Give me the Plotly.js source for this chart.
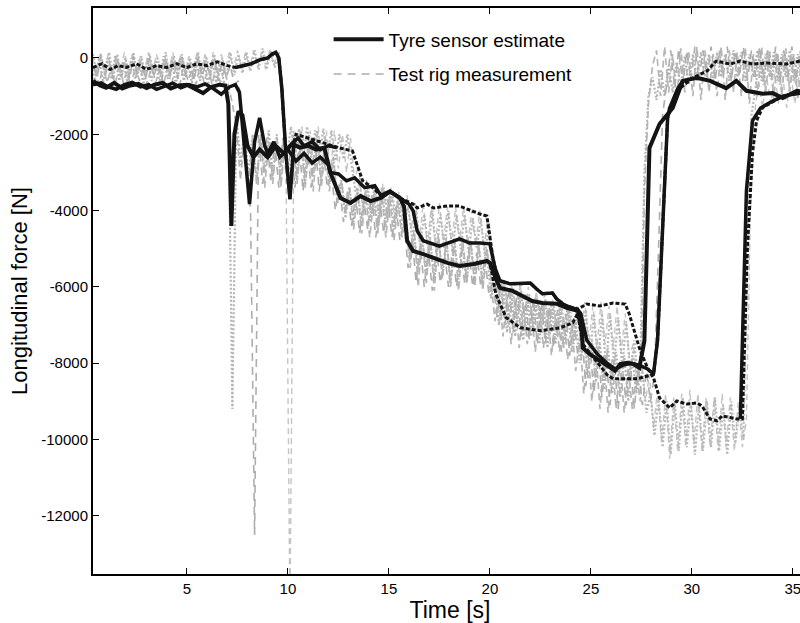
<!DOCTYPE html>
<html>
<head>
<meta charset="utf-8">
<script src="https://cdn.plot.ly/plotly-3.0.1.min.js"></script>
<style>
html,body{margin:0;padding:0;background:#fff;overflow:hidden;}
#chart{width:830px;height:623px;}
</style>
</head>
<body>
<div id="chart"></div>
<script>
// ---- Tick labels ----
const xTicks = [5, 10, 15, 20, 25, 30, 35];
const yTicks = [-12000, -10000, -8000, -6000, -4000, -2000, 0];

// ---- Tyre sensor estimate, run A (solid) ----
const estA_t = [0.35,0.7,1.0,1.4,1.8,2.2,2.6,3.0,3.4,3.8,4.2,4.6,5.0,5.4,5.8,6.2,6.6,6.9,7.05,7.2,7.35,7.55,7.75,8.0,8.3,8.6,9.0,9.4,9.8,10.2,10.6,11.0,11.4,11.8,12.1,12.6,13.1,13.6,14.1,14.6,15.05,15.55,15.75,15.9,16.2,16.7,17.4,17.9,18.5,19.2,19.85,20.0,20.3,20.5,21.1,21.6,22.1,22.6,23.3,23.8,24.35,24.55,24.6,24.95,25.45,25.9,26.2,26.45,26.8,27.1,27.4,27.65,27.9,28.4,29.05,29.55,30.25,30.9,31.7,32.2,32.7,33.5,34.0,34.5,35.2,35.7];
const estA_f = [-600,-720,-780,-650,-800,-720,-680,-790,-700,-650,-800,-720,-700,-820,-920,-760,-700,-720,-1200,-4400,-2000,-1400,-1500,-2300,-2600,-2400,-2600,-2300,-2500,-2250,-2350,-2300,-2400,-2350,-3000,-3670,-3800,-3620,-3750,-3670,-3500,-3670,-3900,-4790,-5060,-5140,-5270,-5370,-5450,-5400,-5320,-5370,-5800,-6030,-6100,-6240,-6370,-6420,-6440,-6550,-6630,-7150,-7600,-7760,-7940,-8120,-8200,-8020,-7990,-8020,-8120,-7410,-2360,-1730,-1310,-600,-520,-600,-790,-600,-860,-940,-920,-1050,-860,-900];

// ---- Tyre sensor estimate, run B (solid) ----
const estB_t = [0.35,0.75,1.1,1.5,1.9,2.3,2.7,3.1,3.5,3.9,4.3,4.7,5.1,5.5,5.9,6.3,6.7,7.1,7.4,7.6,7.85,8.1,8.35,8.6,8.85,9.0,9.3,9.6,10.0,10.4,10.8,11.2,11.6,12.0,12.1,12.5,12.9,13.3,13.8,14.3,14.6,15.05,15.55,16.0,16.2,16.4,16.7,17.5,18.5,19.0,19.5,20.0,20.25,20.5,21.0,21.5,22.0,22.3,22.6,23.1,23.3,23.6,23.8,24.1,24.35,24.5,24.8,25.3,25.8,26.2,26.6,27.0,27.4,27.8,28.1,28.3,28.8,28.9,29.3,29.55];
const estB_f = [-700,-650,-760,-820,-700,-640,-760,-700,-820,-740,-660,-780,-700,-760,-680,-800,-950,-760,-700,-900,-2500,-3830,-2200,-1570,-2300,-2500,-2200,-2600,-2400,-2700,-2500,-2750,-2600,-2800,-3000,-3040,-3220,-3140,-3400,-3350,-3600,-3490,-3670,-3830,-4010,-4530,-4790,-4930,-4740,-4850,-4850,-4870,-5500,-5840,-5920,-5920,-5900,-6050,-6180,-6160,-6310,-6440,-6500,-6550,-6600,-6700,-7400,-7750,-8000,-8150,-8050,-8000,-8050,-8150,-8280,-7410,-1570,-1310,-800,-600];

// ---- Tyre sensor estimate, run C (solid parts) ----
const estC_t = [7.4,7.8,8.2,8.6,9.0,9.2,9.4,9.55,9.7,9.9,10.1,10.3,10.5,10.8,11.2,11.6,12.0,12.4,12.45,32.4,32.7,33.0,33.4,34.0,34.5,35.0,35.7];
const estC_f = [-250,-200,-150,-50,0,100,150,0,-800,-2500,-3700,-2200,-2100,-2300,-2200,-2400,-2300,-2350,null,-9460,-3490,-1650,-1310,-1130,-1000,-950,-900];

// ---- Estimate, run C (dotted black) ----
const dotC_t = [0.35,0.8,1.2,1.6,2.0,2.5,3.0,3.5,4.0,4.5,5.0,5.5,6.0,6.5,7.0,7.4,7.8,8.2,8.6,9.0,9.4,9.55,9.7,9.9,10.1,10.3,10.4,11.0,11.9,12.5,13.2,13.7,14.2,14.6,15.05,15.55,16.2,16.4,16.9,17.2,17.9,18.5,19.5,19.85,20.15,20.4,20.5,21.0,21.5,22.0,22.3,22.6,23.1,23.3,23.6,23.8,24.1,24.35,24.8,25.45,26.1,26.7,26.9,27.1,27.4,27.8,28.1,28.4,28.9,29.25,29.75,30.25,30.5,30.9,31.25,31.5,31.9,32.2,32.5,32.75,33.0,33.2,33.5,34.0,34.5,35.0,35.7];
const dotC_f = [-250,-150,-300,-200,-250,-150,-300,-200,-250,-150,-250,-150,-200,-100,-200,-250,-200,-150,-50,0,150,0,-800,-2500,-3700,-2200,-2000,-2100,-2250,-2350,-2440,-3220,-3400,-3600,-3490,-3670,-3830,-3930,-3830,-3930,-3880,-3880,-4090,-4140,-5240,-5800,-5840,-5920,-5920,-5900,-6050,-6180,-6160,-6310,-6440,-6500,-6550,-6580,-6450,-6500,-6420,-6450,-6710,-7070,-7600,-8120,-8380,-8910,-9170,-8990,-9070,-9040,-9120,-9460,-9510,-9380,-9430,-9460,-9460,-5000,-2500,-1650,-1300,-1150,-1000,-950,-900];

// ---- Estimate, runs A/B (dotted black) ----
const dotAB_t = [19.85,20.0,20.3,20.8,21.5,22.5,23.5,24.1,24.35,24.6,25.2,25.8,26.1,26.7,27.3,27.7,28.1,28.3,28.8,29.25,30.05,30.75,31.2,31.9,32.4,33.0,33.7,34.7,35.35,35.7];
const dotAB_f = [-5320,-5370,-6200,-6800,-7070,-7150,-7070,-6940,-6700,-7500,-7900,-8300,-8410,-8410,-8410,-8350,-8300,-7400,-1570,-860,-520,-340,-80,-160,-80,-160,-130,-160,-80,-100];

// ---- Test rig measurements (sampled every 0.2 s) ----
const rigA_start = 0.25, rigB_start = 0.35, rigC_start = 0.3, rigD_start = 0.35, rigE_start = 0.45, rigStep = 0.2;
const rigA_f = [
 -100,-600,0,-650,-50, -550,50,-600,-100,-650, 0,-550,-50,-700,0, -600,-100,-650,50,-550,
 -50,-700,0,-600,-100, -650,0,-600,-50,-700, -50,-650,-100,-700,-900, -9200,
 -1500,-2800,-1900,-3100, -2000,-3200,-2100,-3000,-1900, -3100,-2000,-3200,-1900,-3300,
 -2000,-3200,-1900,-3300,-2000, -3100,-1900,-3200,-2100,-3300, -2600,-3800,-3200,-4200,-3400,
 -4300,-3400,-4400,-3500,-4300, -3500,-4500,-3400,-4400,-3500, -4500,-3600,-4600,-4200,-5300,
 -4600,-5600,-4700,-5700,-4800, -5800,-4700,-5700,-4800,-5900, -4800,-5800,-4900,-5900,-4800,
 -5800,-4900,-5900,-5000,-6300, -5900,-7000,-6000,-7200,-6100, -7300,-6200,-7400,-6200,-7300,
 -6300,-7500,-6400,-7600,-6400, -7500,-6500,-7600,-6500,-7700, -6900,-8000,-7300,-8400,-7400,
 -8500,-7500,-8700,-7600,-8800, -7700,-8900,-7800,-9000,-7800, -8800,-7900,-3000,-1000,-500,
 -1100,-300,-1000,-200,-900, -100,-800,50,-700,100, -600,150,-500,100,-600, 150,-500,100,-600,200,
 -500,150,-600,100,-500, 200,-600,100,-500,150, -600,100,-500,200,-600, 100,-500,150];
const rigB_f = [
 -200,-500,100,-450,-100, -550,0,-500,-150,-600, 50,-450,-100,-550,0, -500,-150,-600,0,-450,
 -100,-550,50,-500,-150, -600,0,-500,-100,-550, 0,-600,-100,-500,-200, -700,-600,-1500,-3000,-4000,
 -12500, -2000,-3300,-2100,-3200, -2200,-3400,-2100,-3300,-2300, -3400,-2200,-3500,-2300,-3400,
 -2200,-3500,-2400,-3400,-3000, -4000,-3300,-4300,-3500,-4400, -3600,-4600,-3700,-4500,-3600,
 -4700,-3800,-4600,-3700,-4700, -3900,-4800,-4300,-5500,-4700, -5900,-4900,-6000,-5000,-6100,
 -5000,-5900,-5100,-6000,-5000, -6000,-5100,-5900,-5000,-6000, -5100,-6000,-5200,-6200,-5800,
 -6800,-5900,-7000,-6000,-7200, -6100,-7300,-6200,-7400,-6300, -7500,-6400,-7500,-6500,-7600,
 -6600,-7700,-6700,-7800,-6800, -7800,-7200,-8600,-7500,-8800, -7600,-8900,-7800,-9100,-7900,
 -9200,-8000,-9100,-8000,-9200, -8100,-9100,-8200,-9000,-8300, -5000,-1500,-700,200,-800,
 250,-700,200,-600,300, -600,200,-500,300,-600, 200,-500,300,-600,200, -500,300,-600,200,-500,
 300,-600,200,-500,300, -600,200,-500,300,-600, 200,-500];
const rigC_f = [
 50,-400,150,-350,100, -450,50,-400,150,-350, 100,-450,50,-400,150, -350,100,-450,50,-400,
 150,-350,100,-400,50, -450,150,-350,100,-400, 150,-350,100,-300,150, -300,200,-250,150,-300,
 200,-250,150,-300,200, -200,150,-500,-2500, -14500,
 -1900,-3000,-1800,-2900,-1900, -3000,-1800,-2900,-1900,-3000, -1900,-2900,-2000,-3000,-2100,
 -3200,-2800,-4000,-3200,-4200, -3300,-4300,-3300,-4200,-3400, -4300,-3500,-4400,-3600,-4500,
 -3800,-4800,-3800,-4900,-3900, -4900,-3800,-4800,-3900,-4900, -3900,-4800,-3900,-4900,-4000,
 -4900,-4000,-5000,-4200,-5600, -5700,-6500,-5800,-6600,-5900, -6700,-5900,-6800,-6000,-6900,
 -6100,-7000,-6200,-7100,-6300, -7200,-6400,-7300,-6500,-7300, -6500,-7400,-6400,-7500,-6500,
 -7600,-6400,-7500,-6500,-7600, -6500,-7700,-6700,-7800,-7500, -8600,-7800,-9000,-8300,-9700,
 -8700,-10100,-8800,-10500,-8900, -10300,-8800,-10200,-8700,-10100, -8800,-10300,-8900,-10200,-8900,
 -10300,-8800,-10200,-8900,-10300, -9000,-10200,-9500,-4000,-1500, -600,-1300,-500,-1200,-400,
 -1200,-500,-1300,-400,-1200, -500,-1100];
const rigD_f = [
 100,-500,50,-450,150, -550,100,-500,0,-450, 150,-500,50,-550,100, -450,0,-500,150,-550,
 50,-500,100,-450,0, -550,150,-500,50,-450, 100,-550,0,-500,150,
 -450,100,-400,150,-350,200,-300,250,-300,200,-250,150, -1500,-2600,
 -1800,-2600,-1850,-2700,-1800,-2600,-1900,-2700,-1850,-2600,-1900,-2700,-2000,-2650,-2000,
 -2800,-3500,-3300,-4000,-3400,-4100,-3500,-4200,-3400,-4100,-3500,
 -4200,-3600,-4300,-3900,-4700,
 -4000,-4900,-4100,-5000,-4000,-5100,-4100,-5000,-4000,-5100, -4100,-5000,-4100,-5100,-4200,-5000,-4200,-5200,-4300,-5400,
 -6000,-6900,-6000,-7000,-6100,-7000,-6100,-7100,-6200,-7100, -6300,-7200,-6300,-7300,-6400,-7300,-6500,-7400,-6500,-7500,-6600,
 -7800,-6600,-7900,-6700,-8000,-6700,-8100,-6700,-8000,-6800,-8100,-6900,-8300,-7400,-8600,
 -8200,-9300,-8800,-9900,-8900,-10200,-9000,-10400,-9000,-10300, -8900,-10200,-9000,-10400,-9100,-10300,-9000,-10200,-8900,-10300, -9100,-10400,-9000,-10100,-9200,-10000,
 -5000,-1500,-800,50,-700,150,-600,100,-700,150,-600,100,-700,50,-600];
const rigE_f = [
 -300,-700,-200,-650,-250, -700,-150,-650,-300,-700, -200,-600,-250,-700,-150, -650,-300,-700,-200,-650,
 -250,-700,-150,-600,-300, -700,-200,-650,-250,-700, -150,-650,-300,-700,-1200,
 -1800,-3200,-2000,-3400,-2100, -3300,-2000,-3400,-2200,-3300, -2100,-3400,-2200,-3500,-2300,
 -3300,-2200,-3400,-2300,-3500,-2200,-3400,-2400,-3500,-2600,-3800,-3200,-4100,
 -3400,-4500,-3500,-4600,-3600,-4700,-3700,-4600,-3600,-4700,-3700,-4800,-3800,-4700,-4300,
 -5500,-4500,-6000,-4600,-5900,-4700,-6100,-4600,-5800,-4700, -6000,-4800,-6100,-4700,-5900,-4800,-6000,-4900,-6100,-5000,
 -5800,-6900,-6100,-7300,-6200,-7500,-6300,-7600,-6400,-7500, -6500,-7700,-6500,-7600,-6600,-7800,-6700,-7700,-6800,-7900,-7000,
 -8200,-7300,-8800,-7600,-9000,-7700,-9200,-7800,-9300,-7900,-9200,-8000,-9300,-8100,-9200,-8300,
 -9000,-3500,-1200,-200,
 200,-1000,300,-900,100, -1100,250,-900,150,-1000, 300,-1100,200,-900,100, -1000,300,-1100,200,-900,
 150,-1000,250,-1200,100, -1000,300,-900,200,-1100, 150,-1000,250,-900,100, -1100,200,-1000];

const FONT = '"Liberation Sans", Arial, Helvetica, sans-serif';
const BLACK = '#141414';

function rig(start, vals, color, width, dash, extra) {
  return Object.assign({type:'scatter', mode:'lines', x0:start, dx:rigStep, y:vals,
    showlegend:false, legendgroup:'rig', legendrank:2,
    line:{color:color, width:width, dash:dash}}, extra || {});
}

const traces = [
  rig(rigC_start, rigC_f, '#c4c4c4', 1.4, '6px,4px'),
  rig(rigE_start, rigE_f, '#b6b6b6', 1.7, '7px,4px'),
  rig(rigD_start, rigD_f, '#b8b8b8', 2.2, '2px,2px'),
  rig(rigB_start, rigB_f, '#adadad', 1.6, '8px,6px', {showlegend:true, name:'Test rig measurement'}),
  rig(rigA_start, rigA_f, '#b3b3b3', 2.2, '2px,2px'),
  {type:'scatter', mode:'lines', x:dotAB_t, y:dotAB_f, showlegend:false,
   line:{color:BLACK, width:3, dash:'4px,2px'}, legendgroup:'est', legendrank:1},
  {type:'scatter', mode:'lines', x:dotC_t, y:dotC_f, showlegend:false,
   line:{color:BLACK, width:3, dash:'4px,2px'}, legendgroup:'est', legendrank:1},
  {type:'scatter', mode:'lines', x:estB_t, y:estB_f, showlegend:false,
   line:{color:BLACK, width:3.5}, legendgroup:'est', legendrank:1},
  {type:'scatter', mode:'lines', x:estC_t, y:estC_f, showlegend:false, connectgaps:false,
   line:{color:BLACK, width:3.5}, legendgroup:'est', legendrank:1},
  {type:'scatter', mode:'lines', x:estA_t, y:estA_f, name:'Tyre sensor estimate',
   line:{color:BLACK, width:4}, legendgroup:'est', legendrank:1}
];

const axisCommon = {
  showline:true, linewidth:2, linecolor:'#000', mirror:'ticks',
  ticks:'inside', ticklen:6, tickwidth:1, tickcolor:'#000',
  showgrid:false, zeroline:false,
  tickfont:{family:FONT, size:15, color:'#000'}
};

const layout = {
  width:830, height:623,
  margin:{l:93, r:23, t:8, b:49},
  paper_bgcolor:'#fff', plot_bgcolor:'#fff',
  font:{family:FONT, color:'#000'},
  showlegend:true,
  legend:{x:0.33, y:0.978, xanchor:'left', yanchor:'top',
          bgcolor:'rgba(0,0,0,0)', borderwidth:0, itemwidth:50,
          traceorder:'grouped', tracegroupgap:7,
          font:{family:FONT, size:19, color:'#000'}},
  xaxis:Object.assign({}, axisCommon, {
    range:[0.35, 35.7], tickmode:'array', tickvals:xTicks, ticktext:xTicks.map(String),
    title:{text:'Time [s]', font:{family:FONT, size:23, color:'#000'}, standoff:4}
  }),
  yaxis:Object.assign({}, axisCommon, {
    range:[-13525, 1310], tickmode:'array', tickvals:yTicks, ticktext:yTicks.map(String),
    title:{text:'Longitudinal force [N]', font:{family:FONT, size:22, color:'#000'}, standoff:8}
  })
};

Plotly.newPlot('chart', traces, layout, {staticPlot:true, displayModeBar:false});
</script>
</body>
</html>
